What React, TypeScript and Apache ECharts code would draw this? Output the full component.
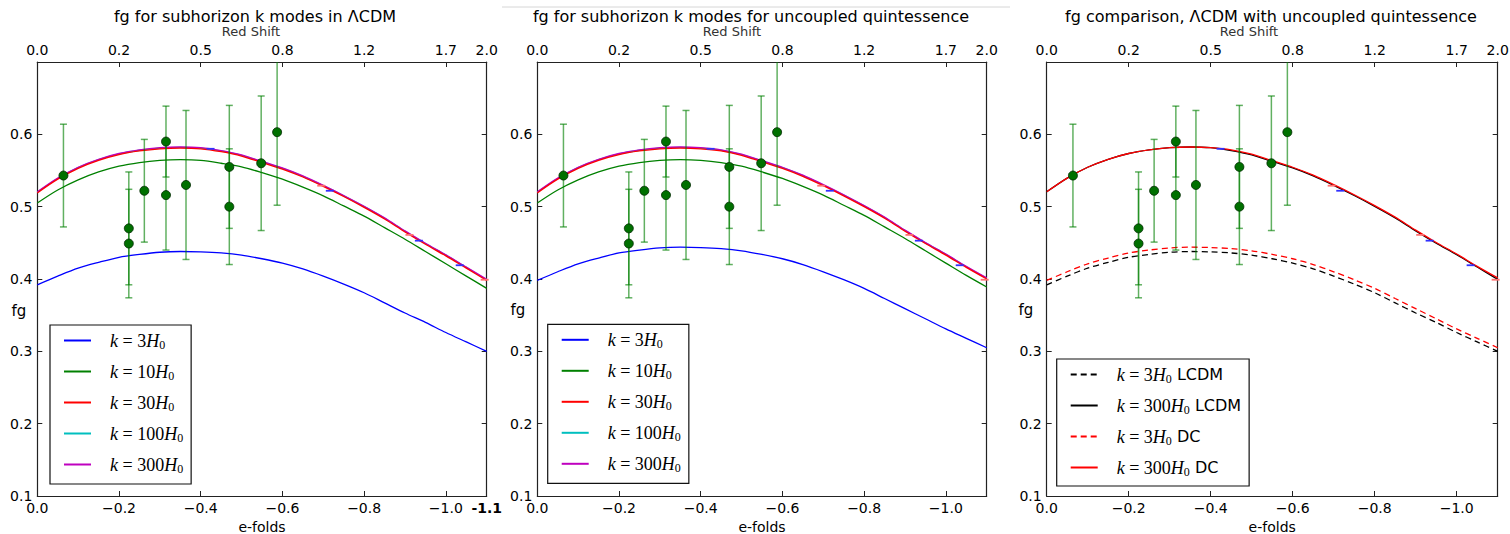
import React, { useEffect, useRef } from 'react';
import * as echarts from 'echarts';

// ---------- data ----------
const efolds = [
  0, -0.05, -0.1, -0.15, -0.2, -0.25, -0.3, -0.35, -0.4, -0.45, -0.5, -0.55,
  -0.6, -0.65, -0.7, -0.75, -0.8, -0.85, -0.9, -0.95, -1.0, -1.05, -1.1,
];

// Lambda CDM, panel 1
const lcdmK3 = [
  0.392, 0.404, 0.415, 0.423, 0.430, 0.434, 0.437, 0.438, 0.4375, 0.436, 0.433, 0.428,
  0.422, 0.414, 0.404, 0.393, 0.381, 0.367, 0.353, 0.340, 0.326, 0.313, 0.300,
];
const lcdmK10 = [
  0.505, 0.523, 0.537, 0.548, 0.556, 0.561, 0.564, 0.565, 0.564, 0.560, 0.555, 0.547,
  0.538, 0.527, 0.515, 0.501, 0.487, 0.471, 0.455, 0.438, 0.421, 0.404, 0.387,
];
const lcdmK30 = [
  0.519, 0.538, 0.553, 0.564, 0.572, 0.577, 0.580, 0.581, 0.580, 0.576, 0.570, 0.561,
  0.552, 0.541, 0.528, 0.514, 0.499, 0.483, 0.465, 0.448, 0.432, 0.415, 0.398,
];
const lcdmK100 = [
  0.520, 0.539, 0.554, 0.565, 0.573, 0.578, 0.581, 0.582, 0.581, 0.577, 0.571, 0.562,
  0.553, 0.542, 0.529, 0.515, 0.500, 0.484, 0.466, 0.449, 0.433, 0.416, 0.399,
];
const lcdmK300 = [
  0.5205, 0.5395, 0.5545, 0.5655, 0.5735, 0.5785, 0.5815, 0.5825, 0.5815, 0.5775, 0.5715, 0.5625,
  0.5535, 0.5425, 0.5295, 0.5155, 0.5005, 0.4845, 0.4665, 0.4495, 0.4335, 0.4165, 0.3995,
];

// uncoupled quintessence, panel 2
const quintK3 = [
  0.398, 0.410, 0.421, 0.429, 0.436, 0.440, 0.443, 0.444, 0.4435, 0.442, 0.439, 0.434,
  0.428, 0.420, 0.410, 0.399, 0.387, 0.373, 0.359, 0.345, 0.331, 0.318, 0.305,
];
const quintK10 = [
  0.505, 0.523, 0.537, 0.548, 0.556, 0.561, 0.564, 0.565, 0.564, 0.561, 0.556, 0.548,
  0.539, 0.528, 0.516, 0.502, 0.488, 0.472, 0.456, 0.439, 0.422, 0.405, 0.389,
];
const quintK30 = [
  0.519, 0.538, 0.553, 0.564, 0.572, 0.577, 0.580, 0.581, 0.580, 0.577, 0.571, 0.562,
  0.553, 0.542, 0.529, 0.515, 0.500, 0.484, 0.466, 0.449, 0.433, 0.416, 0.400,
];
const quintK100 = [
  0.520, 0.539, 0.554, 0.565, 0.573, 0.578, 0.581, 0.582, 0.581, 0.578, 0.572, 0.563,
  0.554, 0.543, 0.530, 0.516, 0.501, 0.485, 0.467, 0.450, 0.434, 0.417, 0.401,
];
const quintK300 = [
  0.5205, 0.5395, 0.5545, 0.5655, 0.5735, 0.5785, 0.5815, 0.5825, 0.5815, 0.5785, 0.5725, 0.5635,
  0.5545, 0.5435, 0.5305, 0.5165, 0.5015, 0.4855, 0.4675, 0.4505, 0.4345, 0.4175, 0.4015,
];

// observations (e-folds, fg, error)
const obsEfolds = [-0.064, -0.224, -0.224, -0.262, -0.315, -0.315, -0.364, -0.470, -0.470, -0.548, -0.587];
const obsFg = [0.543, 0.470, 0.449, 0.522, 0.590, 0.516, 0.530, 0.555, 0.500, 0.560, 0.603];
const obsErr = [0.071, 0.078, 0.075, 0.071, 0.049, 0.076, 0.103, 0.085, 0.080, 0.093, 0.101];

// small simulation caps on the curves
const capBlue = [[-0.424, 0.580], [-0.716, 0.522], [-0.934, 0.453], [-1.034, 0.419]];
const capRed = [[-0.695, 0.529], [-0.911, 0.461], [-1.095, 0.399]];

// ticks
const bottomTicks = [0, -0.2, -0.4, -0.6, -0.8, -1.0];
const topTicks = [0, -0.2, -0.4, -0.6, -0.8, -1.0, -1.1];
const redshiftLabels = ['0.0', '0.2', '0.5', '0.8', '1.2', '1.7', '2.0'];

const titles = [
  'fg for subhorizon k modes in \u039BCDM',
  'fg for subhorizon k modes for uncoupled quintessence',
  'fg comparison, \u039BCDM with uncoupled quintessence',
];
const namesA = ['k=3H0', 'k=10H0', 'k=30H0', 'k=100H0', 'k=300H0'];
const namesC = ['k=3H0 LCDM', 'k=300H0 LCDM', 'k=3H0 DC', 'k=300H0 DC'];

// ---------- helpers ----------
const FONT = 'DejaVu Sans';
const AX = '#222';
const grids = [
  { left: 37.3, top: 62, width: 449.4, height: 434 },
  { left: 537.3, top: 62, width: 449.4, height: 434 },
  { left: 1046.7, top: 62, width: 451, height: 434 },
];

const pair = (ys: number[]) => efolds.map((x, i) => [x, ys[i]]);

const fmtBottom = (v: number) => {
  if (Math.abs(v + 1.1) < 1e-6) return '{end|-1.1}';
  if (Math.abs(v) < 1e-9) return '0.0';
  return '\u2212' + Math.abs(v).toFixed(1);
};
const fmtTop = (v: number) => {
  const i = topTicks.findIndex((t) => Math.abs(t - v) < 1e-6);
  return i >= 0 ? redshiftLabels[i] : '';
};

const makeXAxes = (gridIndex: number, showEnd: boolean) => {
  const line = { show: true, onZero: false, lineStyle: { color: AX, width: 1.2 } };
  return [
    {
      type: 'value', gridIndex, position: 'bottom', min: -1.1, max: 0, inverse: true,
      name: 'e-folds', nameLocation: 'middle', nameGap: 23,
      nameTextStyle: { fontSize: 14, color: '#000', fontFamily: FONT },
      axisLine: line,
      axisTick: { show: true, inside: true, length: 5, customValues: bottomTicks, lineStyle: { color: AX } },
      axisLabel: {
        show: true, customValues: showEnd ? [...bottomTicks, -1.1] : bottomTicks,
        formatter: fmtBottom, fontSize: 14, color: '#000', fontFamily: FONT, margin: 5,
        rich: { end: { fontSize: 14, color: '#000', fontWeight: 'bold', fontFamily: FONT } },
      },
      splitLine: { show: false },
    },
    {
      type: 'value', gridIndex, position: 'top', min: -1.1, max: 0, inverse: true,
      axisLine: line,
      axisTick: { show: true, inside: true, length: 5, customValues: topTicks, lineStyle: { color: AX } },
      axisLabel: {
        show: true, customValues: topTicks, formatter: fmtTop,
        fontSize: 14, color: '#000', fontFamily: FONT, margin: 5,
      },
      splitLine: { show: false },
    },
  ];
};

const makeYAxes = (gridIndex: number) => {
  const line = { show: true, onZero: false, lineStyle: { color: AX, width: 1.2 } };
  return [
    {
      type: 'value', gridIndex, position: 'left', min: 0.1, max: 0.7, interval: 0.1,
      axisLine: line,
      axisTick: { show: true, inside: true, length: 5, lineStyle: { color: AX } },
      axisLabel: {
        formatter: (v: number) => v.toFixed(1), showMaxLabel: false,
        fontSize: 14, color: '#000', fontFamily: FONT, margin: 5,
      },
      splitLine: { show: false },
    },
    {
      type: 'value', gridIndex, position: 'right', min: 0.1, max: 0.7, interval: 0.1,
      axisLine: line,
      axisTick: { show: true, inside: true, length: 5, lineStyle: { color: AX } },
      axisLabel: { show: false },
      splitLine: { show: false },
    },
  ];
};

const lineSeries = (name: string, ys: number[], p: number, color: string, dashed = false, z = 2) => ({
  type: 'line', name, xAxisIndex: p * 2, yAxisIndex: p * 2, z,
  data: pair(ys), smooth: 0.3, symbol: 'none', showSymbol: false,
  lineStyle: { color, width: 1.3, type: dashed ? [6, 4] : 'solid' },
  itemStyle: { color },
  emphasis: { disabled: true },
});

const errorSeries = (p: number) => ({
  type: 'custom', xAxisIndex: p * 2, yAxisIndex: p * 2, clip: true, z: 4,
  data: obsEfolds.map((x, i) => [x, obsFg[i] - obsErr[i], obsFg[i] + obsErr[i]]),
  encode: { x: 0, y: [1, 2] },
  renderItem: (params: any, api: any) => {
    const x = api.value(0);
    const lo = api.coord([x, api.value(1)]);
    const hi = api.coord([x, api.value(2)]);
    const w = 3.5;
    const style = { stroke: 'rgba(0,128,0,0.62)', lineWidth: 1.5 };
    return {
      type: 'group',
      children: [
        { type: 'line', shape: { x1: lo[0], y1: lo[1], x2: hi[0], y2: hi[1] }, style },
        { type: 'line', shape: { x1: lo[0] - w, y1: lo[1], x2: lo[0] + w, y2: lo[1] }, style },
        { type: 'line', shape: { x1: hi[0] - w, y1: hi[1], x2: hi[0] + w, y2: hi[1] }, style },
      ],
    };
  },
});

const pointSeries = (p: number) => ({
  type: 'scatter', xAxisIndex: p * 2, yAxisIndex: p * 2, z: 5,
  data: obsEfolds.map((x, i) => [x, obsFg[i]]),
  symbol: 'circle', symbolSize: 9,
  itemStyle: { color: '#007000', borderColor: '#002800', borderWidth: 0.8, opacity: 1 },
  emphasis: { disabled: true },
});

const capSeries = (p: number, data: number[][], color: string) => ({
  type: 'scatter', xAxisIndex: p * 2, yAxisIndex: p * 2, z: 5,
  data, symbol: 'rect', symbolSize: [8, 1.8],
  itemStyle: { color, opacity: 1 },
  emphasis: { disabled: true },
});

const legendFormatter = (name: string) => {
  const m = name.match(/^k=(\d+)H0(.*)$/);
  if (!m) return name;
  return `{gap| }{it|k}{rm| = ${m[1]}}{it|H}{sub|0}` + (m[2] ? `{sans|${m[2]}}` : '');
};
const legendRich = {
  gap: { width: 14, lineHeight: 20 },
  it: { fontFamily: 'Liberation Serif', fontStyle: 'italic', fontSize: 18, color: '#000', lineHeight: 20 },
  rm: { fontFamily: 'Liberation Serif', fontSize: 18, color: '#000', lineHeight: 20 },
  sub: { fontFamily: 'Liberation Serif', fontSize: 12, color: '#000', lineHeight: 12, padding: [9, 0, 0, 0] },
  sans: { fontFamily: FONT, fontSize: 16, color: '#000', lineHeight: 20 },
};
const makeLegend = (names: string[], left: number, top: number, padding: number[]) => ({
  data: names, orient: 'vertical', left, top, padding,
  itemGap: 10, itemWidth: 27, itemHeight: 14,
  itemStyle: { opacity: 0, color: 'transparent', borderWidth: 0 },
  borderColor: '#111', borderWidth: 1.2, borderRadius: 0, backgroundColor: '#fff',
  selectedMode: false,
  formatter: legendFormatter,
  textStyle: { rich: legendRich },
});

const textEl = (text: string, x: number, y: number, size: number, color = '#000') => ({
  type: 'text', x, y, silent: true,
  style: {
    text, fill: color, font: `${size}px DejaVu Sans`, fontSize: size, fontFamily: FONT,
    align: 'center', verticalAlign: 'middle',
  },
});

const App: React.FC = () => {
  const ref = useRef<HTMLDivElement>(null);
  useEffect(() => {
    if (!ref.current) return;
    const chart = echarts.init(ref.current, undefined, { renderer: 'svg' });
    const series: any[] = [
      // panel 1
      lineSeries('k=3H0', lcdmK3, 0, '#0000ff'),
      lineSeries('k=10H0', lcdmK10, 0, '#008000'),
      lineSeries('k=30H0', lcdmK30, 0, '#ff0000', false, 3),
      lineSeries('k=100H0', lcdmK100, 0, '#00bfbf'),
      lineSeries('k=300H0', lcdmK300, 0, '#bf00bf'),
      errorSeries(0), pointSeries(0),
      capSeries(0, capRed, '#ff7070'), capSeries(0, capBlue, '#3030ff'),
      // panel 2
      lineSeries('k=3H0', quintK3, 1, '#0000ff'),
      lineSeries('k=10H0', quintK10, 1, '#008000'),
      lineSeries('k=30H0', quintK30, 1, '#ff0000', false, 3),
      lineSeries('k=100H0', quintK100, 1, '#00bfbf'),
      lineSeries('k=300H0', quintK300, 1, '#bf00bf'),
      errorSeries(1), pointSeries(1),
      capSeries(1, capRed, '#ff7070'), capSeries(1, capBlue, '#3030ff'),
      // panel 3
      lineSeries('k=3H0 LCDM', lcdmK3, 2, '#000000', true),
      lineSeries('k=300H0 LCDM', lcdmK300, 2, '#000000'),
      lineSeries('k=3H0 DC', quintK3, 2, '#ff0000', true),
      lineSeries('k=300H0 DC', quintK300, 2, '#ff0000'),
      errorSeries(2), pointSeries(2),
      capSeries(2, capRed, '#ff7070'), capSeries(2, capBlue, '#3030ff'),
    ];
    chart.setOption({
      animation: false,
      textStyle: { fontFamily: FONT },
      grid: grids.map((g) => ({ ...g, containLabel: false, outerBoundsMode: 'none' })),
      xAxis: [...makeXAxes(0, true), ...makeXAxes(1, false), ...makeXAxes(2, false)],
      yAxis: [...makeYAxes(0), ...makeYAxes(1), ...makeYAxes(2)],
      legend: [
        makeLegend(namesA, 50, 325, [5, 8, 9, 13]),
        makeLegend(namesA, 547.7, 324.3, [5, 8, 9, 13]),
        makeLegend(namesC, 1056.7, 359, [5, 8, 8, 13]),
      ],
      graphic: [
        { type: 'line', silent: true, shape: { x1: 502, y1: 7, x2: 1010, y2: 7 }, style: { stroke: '#d6d6d6', lineWidth: 1 } },
        textEl(titles[0], 255, 16, 16),
        textEl(titles[1], 751, 16, 16),
        textEl(titles[2], 1271, 16, 16),
        textEl('Red Shift', 251, 31, 13, '#333'),
        textEl('Red Shift', 732, 31, 13, '#333'),
        textEl('Red Shift', 1249, 31, 13, '#333'),
        textEl('fg', 19, 311, 15),
        textEl('fg', 518, 310, 15),
        textEl('fg', 1026, 310, 15),
      ],
      series,
    });
    return () => chart.dispose();
  }, []);
  return (
    <div
      ref={ref}
      style={{ position: 'absolute', left: 0, top: 0, width: 1510, height: 534, background: '#fff' }}
    />
  );
};

export default App;
